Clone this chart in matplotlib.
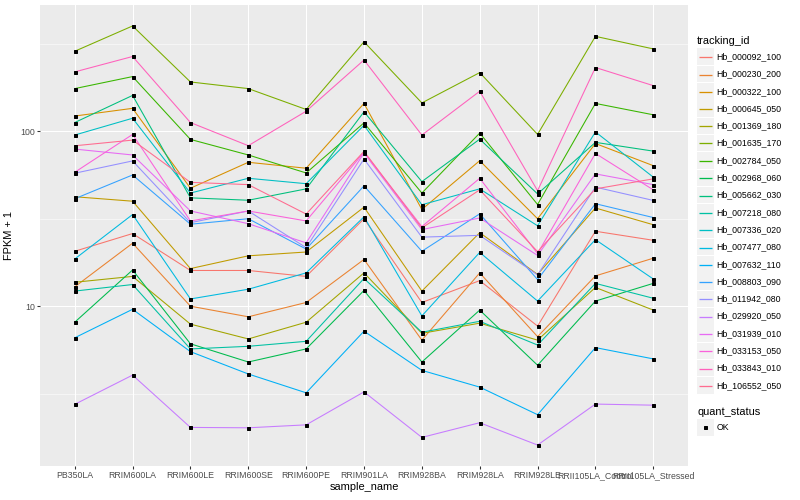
import numpy as np
import matplotlib
matplotlib.use("Agg")
from matplotlib import pyplot as plt
from matplotlib.lines import Line2D
from matplotlib.patches import Rectangle

plt.rcParams['font.family'] = ['Liberation Sans', 'DejaVu Sans']

samples = ["PB350LA", "RRIM600LA", "RRIM600LE", "RRIM600SE", "RRIM600PE", "RRIM901LA",
           "RRIM928BA", "RRIM928LA", "RRIM928LE", "RRII105LA_Control", "RRII105LA_Stressed"]

tracking_ids = ["Hb_000092_100", "Hb_000230_200", "Hb_000322_100", "Hb_000645_050",
                "Hb_001369_180", "Hb_001635_170", "Hb_002784_050", "Hb_002968_060",
                "Hb_005662_030", "Hb_007218_080", "Hb_007336_020", "Hb_007477_080",
                "Hb_007632_110", "Hb_008803_090", "Hb_011942_080", "Hb_029920_050",
                "Hb_031939_010", "Hb_033153_050", "Hb_033843_010", "Hb_106552_050"]

# FPKM + 1 per sample, one list per gene
hb_000092_100 = [20.6, 26.0, 16.0, 16.0, 14.8, 31.6, 10.5, 14.0, 7.7, 26.8, 23.8]
hb_000230_200 = [12.9, 22.9, 10.0, 8.7, 10.5, 18.5, 6.4, 15.5, 6.7, 14.9, 18.8]
hb_000322_100 = [122, 135, 47.2, 66.4, 61.4, 144, 35.7, 67.8, 31.6, 85, 63.5]
hb_000645_050 = [42.2, 39.8, 16.4, 19.4, 20.4, 36.8, 12.2, 26.3, 15.2, 36.4, 29.2]
hb_001369_180 = [13.7, 14.8, 7.9, 6.5, 8.1, 15.5, 7.0, 8.0, 6.4, 12.8, 9.5]
hb_001635_170 = [286, 399, 191, 175, 133, 324, 145, 216, 95.8, 348, 295]
hb_002784_050 = [175, 205, 89.7, 73.1, 57.7, 111.5, 44.3, 97.5, 38.1, 144, 124]
hb_002968_060 = [8.1, 16.1, 6.1, 4.8, 5.7, 12.3, 4.8, 9.5, 4.6, 10.7, 13.5]
hb_005662_030 = [112, 160, 41.6, 40.3, 46.8, 129, 51.5, 90, 43.8, 86.3, 76.9]
hb_007218_080 = [12.2, 13.3, 5.7, 5.9, 6.3, 14.4, 7.1, 8.2, 6.0, 13.5, 11.1]
hb_007336_020 = [95, 118.5, 44.3, 53.8, 50.1, 108, 38, 46.8, 28.8, 99, 54.6]
hb_007477_080 = [18.6, 33.4, 11.0, 12.5, 15.5, 32.4, 8.8, 20.3, 10.7, 24.0, 14.3]
hb_007632_110 = [6.6, 9.6, 5.5, 4.1, 3.2, 7.2, 4.3, 3.45, 2.4, 5.8, 5.0]
hb_008803_090 = [41.1, 56.2, 29.4, 31.6, 21.2, 48.7, 20.6, 33.7, 14.2, 38.5, 32.1]
hb_011942_080 = [57.5, 67.6, 30.0, 35.0, 21.6, 69.3, 24.8, 25.4, 15.1, 47.9, 40.2]
hb_029920_050 = [2.75, 4.04, 2.03, 2.02, 2.10, 3.24, 1.78, 2.16, 1.61, 2.76, 2.72]
hb_031939_010 = [79, 73.1, 35, 29.6, 23, 75, 27.4, 31.9, 19.5, 57, 49.5]
hb_033153_050 = [58.2, 95.8, 30.7, 35, 30.7, 75.7, 28.5, 53.8, 20, 74.6, 46.2]
hb_033843_010 = [218, 267, 112, 82.6, 130, 255, 95, 169, 45.7, 231, 182]
hb_106552_050 = [82.5, 88.9, 51, 49.5, 33.6, 76.7, 28, 46.2, 20.5, 46.8, 53.4]

series = [hb_000092_100, hb_000230_200, hb_000322_100, hb_000645_050, hb_001369_180,
          hb_001635_170, hb_002784_050, hb_002968_060, hb_005662_030, hb_007218_080,
          hb_007336_020, hb_007477_080, hb_007632_110, hb_008803_090, hb_011942_080,
          hb_029920_050, hb_031939_010, hb_033153_050, hb_033843_010, hb_106552_050]

colors = ["#F8766D", "#EA8331", "#D89000", "#C09B00", "#A3A500", "#7CAE00", "#39B600",
          "#00BB4E", "#00BF7D", "#00C1A3", "#00BFC4", "#00BAE0", "#00B0F6", "#35A2FF",
          "#9590FF", "#C77CFF", "#E76BF3", "#FA62DB", "#FF62BC", "#FF6C90"]

W, H = 800, 500
fig = plt.figure(figsize=(W / 72, H / 72), dpi=72)
ax = fig.add_axes([40 / W, 1 - 466 / H, 648 / W, 461 / H])
ax.set_facecolor("#EBEBEB")
for s in ax.spines.values():
    s.set_visible(False)

x = np.arange(len(samples))
for vals, col in zip(series, colors):
    ax.plot(x, vals, color=col, lw=1.07, zorder=3)
for vals in series:
    ax.plot(x, vals, linestyle="none", marker="s", markersize=3, color="black", zorder=4)

ax.set_yscale("log")
allv = np.log10(np.concatenate([np.array(v, dtype=float) for v in series]))
lo, hi = allv.min(), allv.max()
pad = (hi - lo) * 0.05
ax.set_ylim(10 ** (lo - pad), 10 ** (hi + pad))
ax.set_xlim(-0.6, len(samples) - 0.4)

ax.set_yticks([10, 100])
ax.set_yticklabels(["10", "100"])
ax.set_yticks([10 ** 0.5, 10 ** 1.5, 10 ** 2.5], minor=True)
ax.yaxis.set_minor_formatter(plt.NullFormatter())
ax.set_xticks(x)
ax.set_xticklabels(samples)
ax.grid(True, which="major", color="white", lw=1.07)
ax.grid(True, which="minor", axis="y", color="white", lw=0.53)
ax.set_axisbelow(True)
ax.tick_params(which="major", length=2.75, width=1.07, color="#333333",
               labelsize=8.8, labelcolor="#4D4D4D", pad=2.2)
ax.tick_params(which="minor", length=0)
ax.set_xlabel("sample_name", fontsize=11, labelpad=2)
ax.set_ylabel("FPKM + 1", fontsize=11, labelpad=6)

# legend, drawn by hand in ggplot style
def fx(px):
    return px / W


def fy(py):
    return 1 - py / H


fig.text(fx(697), fy(40.7), "tracking_id", fontsize=11, va="center", ha="left")
row0, step = 56.7, 17.3
for i, (name, col) in enumerate(zip(tracking_ids, colors)):
    cy = row0 + i * step
    ly = int(cy) + 0.5
    fig.add_artist(Rectangle((fx(697), fy(cy + 8.3)), 16.5 / W, 16.6 / H,
                             transform=fig.transFigure, facecolor="#F2F2F2",
                             edgecolor="none", zorder=1))
    fig.add_artist(Line2D([fx(698.5), fx(712)], [fy(ly), fy(ly)],
                          transform=fig.transFigure, color=col, lw=1.3, zorder=5,
                          solid_capstyle="butt"))
    fig.text(fx(716.5), fy(cy), name, fontsize=8.8, va="center", ha="left")

fig.text(fx(697), fy(412.3), "quant_status", fontsize=11, va="center", ha="left")
fig.add_artist(Rectangle((fx(697), fy(427.3 + 8.3)), 16.5 / W, 16.6 / H,
                         transform=fig.transFigure, facecolor="#F2F2F2",
                         edgecolor="none", zorder=1))
fig.add_artist(Line2D([fx(705.2)], [fy(427.3)], transform=fig.transFigure,
                      marker="s", markersize=3, color="black", linestyle="none", zorder=5))
fig.text(fx(716.5), fy(427.3), "OK", fontsize=8.8, va="center", ha="left")

fig.savefig("out.png", dpi=72)
